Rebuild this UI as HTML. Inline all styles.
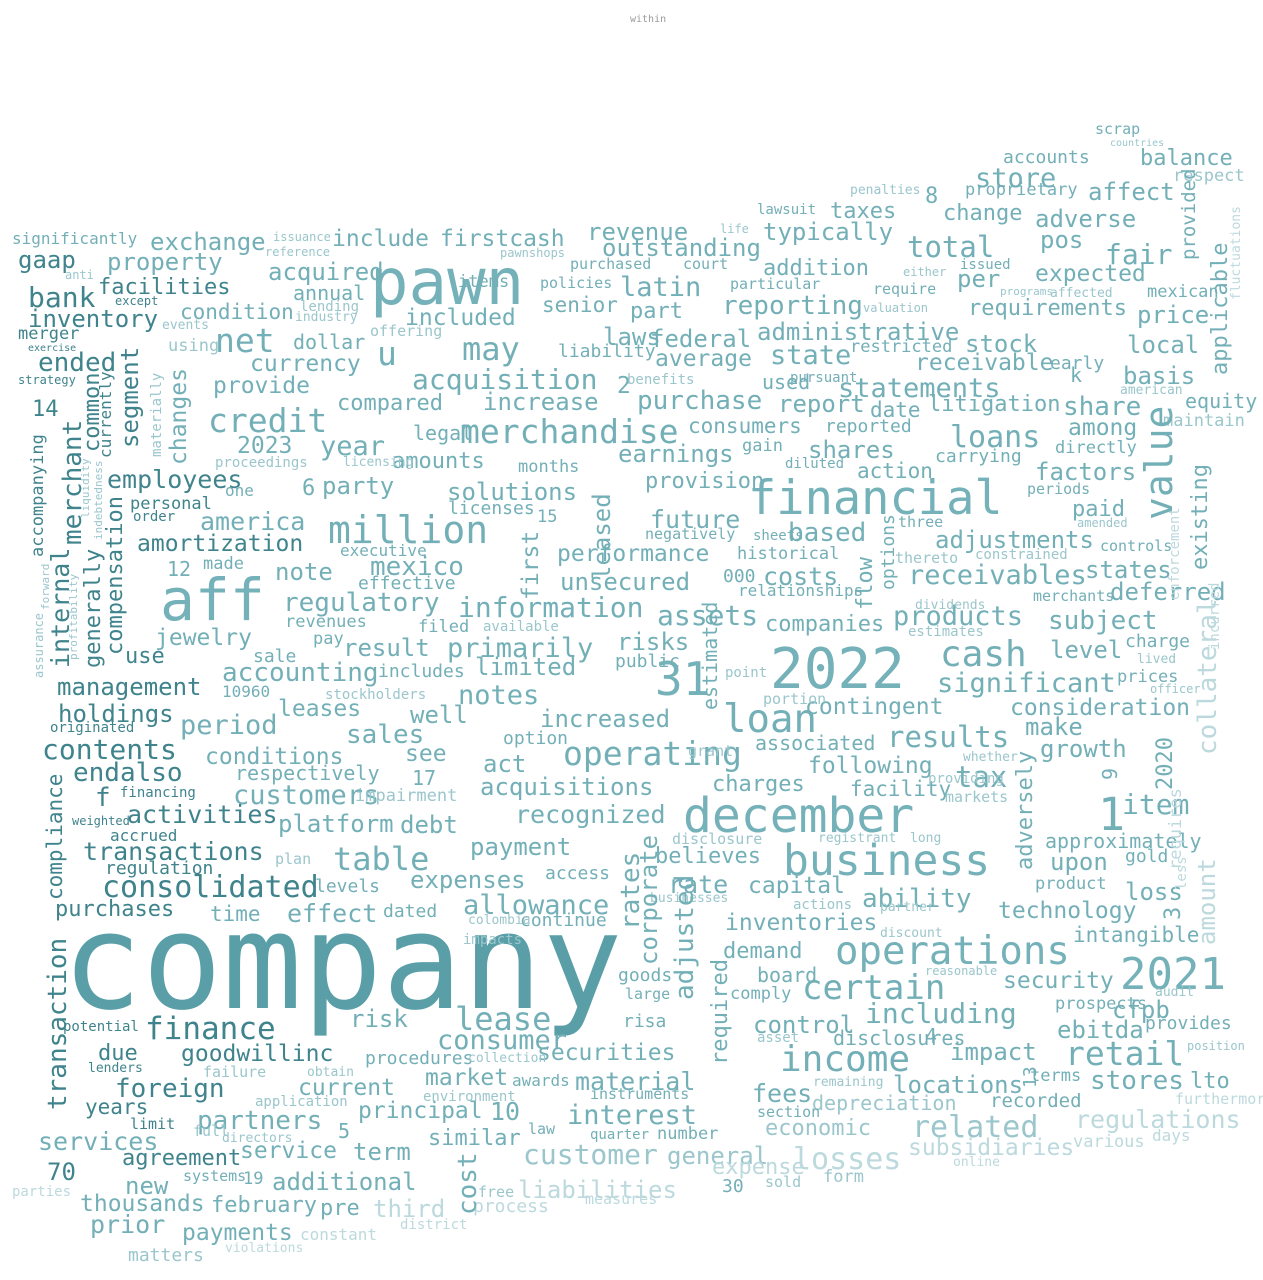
<!DOCTYPE html>
<html>
<head>
<meta charset="utf-8">
<style>
html,body{margin:0;padding:0;background:#fff;}
#cloud{position:relative;width:1263px;height:1280px;overflow:hidden;background:#fff;font-family:"DejaVu Sans Mono","Liberation Mono",monospace;}
.w{position:absolute;white-space:nowrap;line-height:1;}
.v{transform:rotate(-90deg);transform-origin:0 0;}
</style>
</head>
<body>
<div id="cloud"></div>
<script>
// word | x | baseline (or bottom for vertical) | font size | color code | vertical flag
const words = `within|630|23|10|g
company|62|1010|133|C
pawn|370|305|64|B
financial|748|515|47|B
2022|770|690|56|B
aff|160|620|58|B
december|683|833|48|B
business|783|877|43|B
operations|835|965|39|B
2021|1120|990|44|B
31|655|695|46|B
credit|208|432|33|m
million|328|543|38|m
merchandise|460|443|33|m
acquisition|412|390|28|m
net|215|352|33|m
u|377|365|33|m
may|462|360|32|m
loan|723|733|39|m
cash|940|668|36|m
income|780|1073|36|m
retail|1065|1065|33|m
certain|802|1000|34|m
operating|563|765|33|m
consolidated|102|898|30|d
finance|145|1040|31|d
lease|455|1030|32|m
results|887|748|29|m
related|912|1138|30|l
losses|793|1170|30|p
customer|523|1165|28|l
interest|567|1125|27|m
table|333|870|32|m
total|907|258|29|m
store|975|188|27|m
foreign|115|1098|26|d
contents|42|760|28|d
1|1098|830|45|m
significantly|12|245|16|m
gaap|18|268|24|d
bank|28|308|28|d
inventory|28|327|24|d
merger|18|340|17|d
ended|38|372|26|d
strategy|18|384|12|d
14|32|418|22|d
exchange|150|250|24|m
property|107|270|24|m
facilities|98|296|22|d
include|332|248|23|m
firstcash|440|248|23|m
revenue|587|240|24|m
outstanding|602|256|24|m
acquired|268|280|24|m
annual|293|300|20|m
condition|180|320|21|m
included|405|327|23|m
latin|620|297|27|m
part|630|320|22|m
senior|542|313|21|m
reporting|722|315|26|m
addition|763|277|22|m
typically|763|240|24|m
taxes|830|220|22|m
change|943|222|22|m
adverse|1035|227|24|m
affect|1088|200|24|m
accounts|1003|164|18|m
balance|1140|167|22|m
respect|1173|182|17|l
fair|1105|265|28|m
expected|1035|283|23|m
pos|1040|248|24|m
requirements|968|317|22|m
administrative|757|340|24|m
federal|650|347|24|m
laws|603|345|24|m
stock|965|352|24|m
price|1137|323|24|m
local|1127|353|24|m
state|770|365|27|m
receivable|915|372|23|m
statements|838|398|27|m
average|655|368|23|m
purchase|637|410|26|m
increase|483|410|24|m
compared|337|412|22|m
currency|250|373|23|m
provide|213|395|23|m
report|778|412|24|m
share|1063|416|26|m
basis|1123|384|24|m
litigation|928|413|22|m
date|870|418|21|m
loans|950|448|30|m
among|1068|437|23|m
equity|1185|408|20|m
maintain|1163|427|17|l
shares|808|458|24|m
consumers|688|434|21|m
earnings|618|462|24|m
amounts|392|470|22|m
legal|413|440|20|m
year|320|456|27|m
2023|237|455|23|m
employees|107|488|25|d
solutions|447|500|24|m
party|322|494|24|m
america|200|530|25|m
amortization|137|553|23|d
provision|645|490|22|m
factors|1035|480|24|m
future|650|528|25|m
based|788|542|26|m
adjustments|935|548|24|m
receivables|908|585|27|m
mexico|370|576|26|m
regulatory|283|612|26|m
information|458|618|28|m
costs|763|585|25|m
unsecured|560|590|24|m
performance|557|563|23|m
assets|657|626|28|m
products|893|626|27|m
subject|1048|630|26|m
states|1085|578|24|m
deferred|1110|600|24|m
jewelry|155|647|23|m
result|343|656|24|m
primarily|447|658|27|m
risks|617|650|24|m
companies|765|633|22|m
level|1050|658|24|m
accounting|222|682|26|m
management|57|695|24|d
notes|458|705|27|m
limited|475|675|24|m
significant|937|693|27|m
holdings|58|722|24|d
leases|278|718|23|m
period|180|735|27|m
contingent|805|716|23|m
consideration|1010|717|23|m
increased|540|727|24|m
make|1025|735|24|m
endalso|73|782|26|d
sales|346|744|26|m
well|410|723|24|m
see|405|763|23|m
conditions|205|766|23|m
growth|1040|757|24|m
associated|755|750|20|m
option|503|745|18|m
act|483|772|24|m
acquisitions|480|795|24|m
customers|233|805|27|m
respectively|235|780|20|m
following|808|775|23|m
tax|955|788|29|m
charges|712|793|22|m
facility|850|797|21|m
item|1122|815|28|m
activities|127|823|25|d
platform|278|832|24|m
debt|400|833|24|m
recognized|515|823|25|m
payment|470|855|24|m
transactions|83|860|25|d
regulation|105|875|18|d
expenses|410|888|24|m
allowance|463|915|27|m
rate|668|893|25|m
capital|748|895|23|m
ability|862|908|26|m
loss|1125|900|24|m
technology|998|920|23|m
effect|287|922|25|m
time|210|922|21|m
purchases|55|918|22|d
inventories|725|932|23|m
intangible|1073|943|21|m
demand|723|960|22|m
board|757|982|20|m
security|1003|990|23|m
cfpb|1112|1018|24|m
including|865|1024|28|m
ebitda|1057|1038|24|m
provides|1145|1030|18|m
risk|350|1027|24|m
consumer|437|1050|27|m
securities|537|1062|23|m
goodwillinc|181|1063|23|d
procedures|365|1065|18|m
due|98|1062|22|d
control|753|1033|24|m
disclosures|833|1045|20|m
impact|950|1060|24|m
locations|893|1093|24|m
stores|1090|1090|26|m
lto|1190|1090|22|m
market|425|1087|23|m
material|575|1090|25|m
current|298|1097|23|m
years|85|1115|21|d
partners|197|1130|26|m
principal|358|1120|23|m
10|490|1120|25|m
fees|752|1102|25|m
depreciation|812|1110|20|l
recorded|990|1108|19|m
regulations|1075|1128|25|p
services|38|1150|25|m
economic|765|1137|22|l
similar|428|1147|22|m
term|353|1160|24|m
service|240|1160|23|m
agreement|122|1167|22|d
general|667|1164|24|l
subsidiaries|908|1157|23|p
various|1073|1148|17|p
expense|712|1176|22|p
new|125|1194|24|m
70|47|1180|24|d
thousands|80|1213|23|m
additional|272|1190|24|m
liabilities|518|1198|24|p
february|211|1214|22|m
third|373|1217|24|p
prior|90|1233|25|m
payments|182|1242|23|m
pre|320|1217|22|m
matters|128|1262|18|l
process|473|1213|18|p
30|722|1193|18|m
f|95|807|26|d
12|167|576|20|m
6|302|497|22|m
5|338|1138|20|m
17|412|785|20|m
15|537|523|17|m
2|617|395|23|m
8|925|205|22|m
k|1070|382|20|m
4|925|1043|20|m
000|723|583|18|m
scrap|1095|135|15|m
countries|1110|147|10|l
lawsuit|757|215|14|m
life|720|233|12|l
proprietary|965|196|17|m
dollar|293|349|20|m
using|168|352|17|l
months|518|473|17|m
licenses|448|515|18|m
personal|130|510|17|d
order|133|522|14|d
one|225|497|16|m
made|203|570|17|m
note|275|580|24|m
effective|358|590|18|m
executive|340|557|16|m
use|125|665|22|d
sale|253|663|18|m
pay|313|645|17|m
revenues|285|628|17|m
filed|418|633|17|m
available|483|632|14|l
includes|378|678|18|m
public|615|668|18|m
10960|222|698|16|m
stockholders|325|700|14|l
originated|50|733|14|d
impairment|355|802|17|l
financing|120|798|14|d
accrued|110|842|16|d
plan|275|865|15|l
levels|315|893|18|m
dated|383|918|18|m
continue|520|927|18|m
access|545|880|18|m
believes|655|865|22|m
upon|1050|870|24|m
approximately|1045|848|20|m
gold|1125|863|18|m
product|1035|890|17|m
prospects|1055|1010|17|m
terms|1030|1082|17|m
furthermore|1175|1105|15|p
position|1187|1050|12|l
audit|1155|997|13|l
comply|730|1000|17|m
goods|618|982|18|m
large|625|1000|15|m
risa|623|1028|18|m
number|657|1140|17|m
quarter|590|1140|14|m
law|528|1135|15|m
awards|512|1087|16|m
instruments|590|1100|15|m
section|757|1118|15|m
sold|765|1188|15|l
form|823|1183|17|l
online|953|1167|13|p
days|1152|1142|16|p
measures|585|1205|15|p
district|400|1230|14|p
constant|300|1241|16|p
violations|225|1253|13|p
parties|12|1197|14|p
systems|183|1182|15|m
limit|130|1130|15|d
19|243|1185|17|m
directors|222|1143|13|l
full|193|1137|15|l
failure|203|1078|15|l
application|255|1107|14|l
obtain|307|1077|13|l
potential|63|1032|14|d
lenders|88|1073|13|d
historical|737|560|17|m
relationships|738|597|16|m
sheets|753|541|14|m
negatively|645|540|15|m
gain|742|452|17|m
diluted|785|469|14|m
used|762|389|20|m
benefits|627|385|14|l
liability|558|358|18|m
policies|540|289|15|m
purchased|570|270|15|m
court|683|270|15|m
particular|730|290|15|m
restricted|850|353|17|m
pursuant|790|383|14|m
carrying|935|463|18|m
reported|825|433|18|m
action|857|479|21|m
directly|1055|454|17|m
paid|1072|518|22|m
periods|1027|495|15|m
controls|1100|552|15|m
merchants|1033|602|15|m
charge|1125|648|18|m
lived|1137|664|13|l
prices|1117|683|17|m
officer|1150|693|12|l
early|1050|370|18|m
mexican|1147|298|17|m
per|957|287|24|m
issued|960|270|14|m
require|873|295|15|m
three|898|528|15|m
dividends|915|610|13|l
estimates|908|637|14|l
portion|763|705|15|l
point|725|678|14|l
disclosure|672|845|15|l
registrant|818|843|13|l
long|910|843|13|l
markets|945|803|15|l
providing|928|784|14|l
whether|963|762|13|l
grant|688|757|15|l
actions|793|910|14|l
partner|880|912|13|l
discount|880|938|13|l
reasonable|925|975|12|l
asset|757|1043|14|l
remaining|813|1087|13|l
businesses|650|903|13|l
colombia|468|925|13|l
impacts|463|945|14|l
collection|468|1063|13|l
environment|423|1102|14|l
free|478|1198|15|l
weighted|72|825|12|d
issuance|273|241|12|l
reference|265|256|12|l
pawnshops|500|257|12|l
items|458|288|17|m
anti|65|279|12|l
except|115|305|12|d
exercise|28|352|10|d
events|162|330|13|l
lending|300|312|14|l
industry|295|322|13|l
offering|370|337|15|l
proceedings|215|468|14|l
licensing|343|467|13|l
valuation|863|312|12|l
penalties|850|195|13|l
either|903|276|12|l
programs|1000|295|11|l
american|1120|395|13|l
affected|1050|298|13|l
constrained|975|560|14|l
thereto|895|564|15|l
amended|1077|527|12|l
internal|48|668|25|d|v
merchant|60|545|26|d|v
common|82|452|22|d|v
generally|83|668|22|d|v
compensation|105|655|22|d|v
segment|118|448|24|d|v
changes|168|465|23|m|v
accompanying|30|557|17|d|v
currently|98|458|16|d|v
liquidity|80|518|11|l|v
indebtedness|93|540|11|l|v
profitability|68|660|11|l|v
forward|40|610|11|l|v
assurance|33|678|12|l|v
compliance|45|900|21|d|v
transaction|45|1110|26|d|v
materially|150|457|14|l|v
first|520|600|23|m|v
leased|590|580|24|m|v
cost|455|1215|26|m|v
rates|618|930|26|m|v
corporate|637|965|24|m|v
adjusted|672|1000|26|m|v
required|710|1065|22|m|v
estimated|700|710|20|m|v
flow|855|610|22|m|v
options|880|590|18|m|v
adversely|1015|870|22|m|v
existing|1190|570|22|m|v
collateral|1195|755|26|p|v
amount|1195|945|24|p|v
2020|1155|790|22|m|v
applicable|1210|375|22|m|v
provided|1180|260|19|m|v
fluctuations|1230|300|13|p|v
requires|1168|870|17|p|v
less|1175|890|14|p|v
enforcement|1168|600|14|p|v
incurred|1208|650|14|p|v
value|1140|520|38|m|v
3|1163|920|22|m|v
13|1022|1088|18|m|v
9|1100|780|20|m|v`.split('\n');

const palette = {C:'#5a9fa8',B:'#74b1b9',d:'#3f838c',m:'#73afb7',l:'#9ac6cc',p:'#bcd9dd',g:'#9a9a9a'};

const cloud = document.getElementById('cloud');
words.forEach(line => {
  const [t, x, y, s, c, v] = line.split('|');
  const size = +s;
  const el = document.createElement('div');
  
  
  el.className = 'w' + (v ? ' v' : '');
  el.textContent = t;
  el.style.fontSize = size + 'px';
  el.style.color = palette[c] || palette.m;
  el.style.left = x + 'px';
  el.style.top = (v ? +y : (+y - 0.85 * size)) + 'px';
  cloud.appendChild(el);
});
</script>
</head>
</html>
